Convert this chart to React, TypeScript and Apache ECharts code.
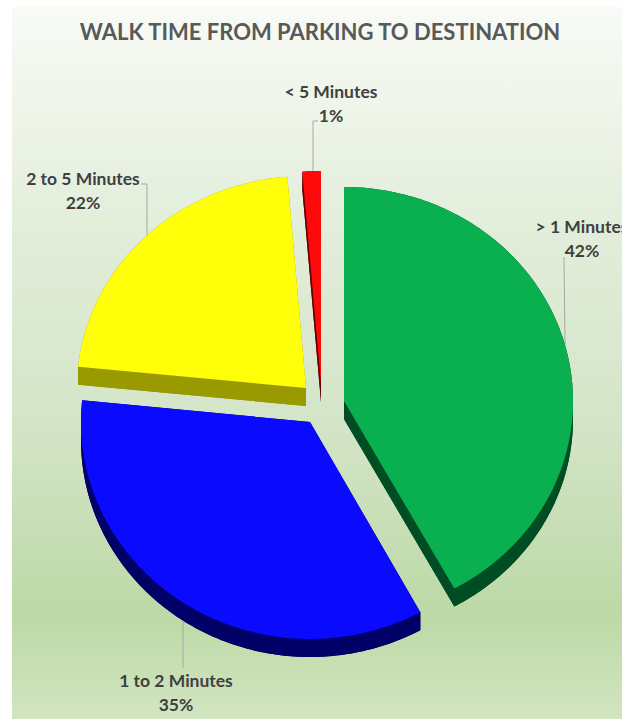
import React, { useEffect, useRef } from "react";
import * as echarts from "echarts";

const titleText = "WALK TIME FROM PARKING TO DESTINATION";
const categories = ["> 1 Minutes", "1 to 2 Minutes", "2 to 5 Minutes", "< 5 Minutes"];
const shares = [42, 34.6, 22.1, 1.3];
const topColors = ["#0ab050", "#0a0aff", "#ffff0a", "#ff0a0a"];
const sideColors = ["#004d23", "#000066", "#999900", "#660000"];

// layout of the exploded 3D pie
const vertexX = [344, 310, 306, 321];
const vertexY = [401, 422, 388, 384];
const radiusY = [214, 217, 212, 213];
const labelX = [582, 176, 83, 331];
const labelY = [238, 692, 190, 103];
const radiusX = 229;
const depth = 18;
const leaders = [
  [[564, 257], [565, 345]],
  [[183, 620], [183, 668]],
  [[141, 184], [147, 184], [147, 238]],
  [[318, 121], [313, 121], [313, 171]],
];

function renderSlice(params: any, api: any) {
  const i = params.dataIndex;
  const value = api.value(0) as number;
  const before = shares.slice(0, i).reduce((a, b) => a + b, 0);
  const a0 = (before / 100) * Math.PI * 2;
  const a1 = ((before + value) / 100) * Math.PI * 2;
  const vx = vertexX[i];
  const vy = vertexY[i];
  const arc: number[][] = [];
  const steps = Math.max(4, Math.ceil((a1 - a0) / 0.015));
  for (let s = 0; s <= steps; s++) {
    const t = a0 + ((a1 - a0) * s) / steps;
    arc.push([vx + radiusX * Math.sin(t), vy - radiusY[i] * Math.cos(t)]);
  }
  const down = (p: number[]) => [p[0], p[1] + depth];
  const face = [[vx, vy], ...arc];
  const first = arc[0];
  const last = arc[arc.length - 1];
  const dark = { fill: sideColors[i] };
  return {
    type: "group",
    children: [
      { type: "polygon", shape: { points: face.map(down) }, style: dark },
      { type: "polygon", shape: { points: [...arc, ...arc.map(down).reverse()] }, style: dark },
      { type: "polygon", shape: { points: [[vx, vy], first, down(first), [vx, vy + depth]] }, style: dark },
      { type: "polygon", shape: { points: [[vx, vy], last, down(last), [vx, vy + depth]] }, style: dark },
      { type: "polygon", shape: { points: face }, style: { fill: topColors[i] } },
    ],
  };
}

export default function App() {
  const ref = useRef<HTMLDivElement>(null);
  useEffect(() => {
    const chart = echarts.init(ref.current!, null, { renderer: "svg" });
    chart.setOption({
      animation: false,
      backgroundColor: "#ffffff",
      title: {
        text: titleText,
        left: 315,
        top: 15,
        textAlign: "center",
        textStyle: { fontFamily: "Lato", fontSize: 22, fontWeight: "bold", color: "#595959" },
      },
      graphic: [
        {
          type: "rect",
          z: -10,
          shape: { x: 12, y: 7, width: 610, height: 712 },
          style: {
            fill: new echarts.graphic.LinearGradient(0, 0, 0, 1, [
              { offset: 0, color: "#f8fbf6" },
              { offset: 0.3, color: "#e3eedb" },
              { offset: 0.6, color: "#d3e4c6" },
              { offset: 0.85, color: "#bcd9a6" },
              { offset: 1, color: "#d2e5c0" },
            ]),
          },
        },
        ...leaders.map((pts) => ({
          type: "polyline",
          z: 5,
          shape: { points: pts },
          style: { stroke: "#a6a6a6", lineWidth: 1, fill: "none" },
        })),
        ...categories.map((c, i) => ({
          type: "text",
          z: 10,
          x: labelX[i],
          y: labelY[i],
          style: {
            text: `${c}\n${Math.round(shares[i])}%`,
            align: "center",
            verticalAlign: "middle",
            fontFamily: "Lato",
            fontSize: 17.5,
            fontWeight: "bold",
            lineHeight: 24,
            fill: "#404040",
          },
        })),
      ],
      series: [
        {
          type: "custom",
          coordinateSystem: "none",
          renderItem: renderSlice,
          data: shares.map((v) => [v]),
          z: 6,
          silent: true,
        },
      ],
    });
    return () => chart.dispose();
  }, []);
  return <div ref={ref} style={{ position: "fixed", left: 0, top: 0, width: 622, height: 719 }} />;
}
